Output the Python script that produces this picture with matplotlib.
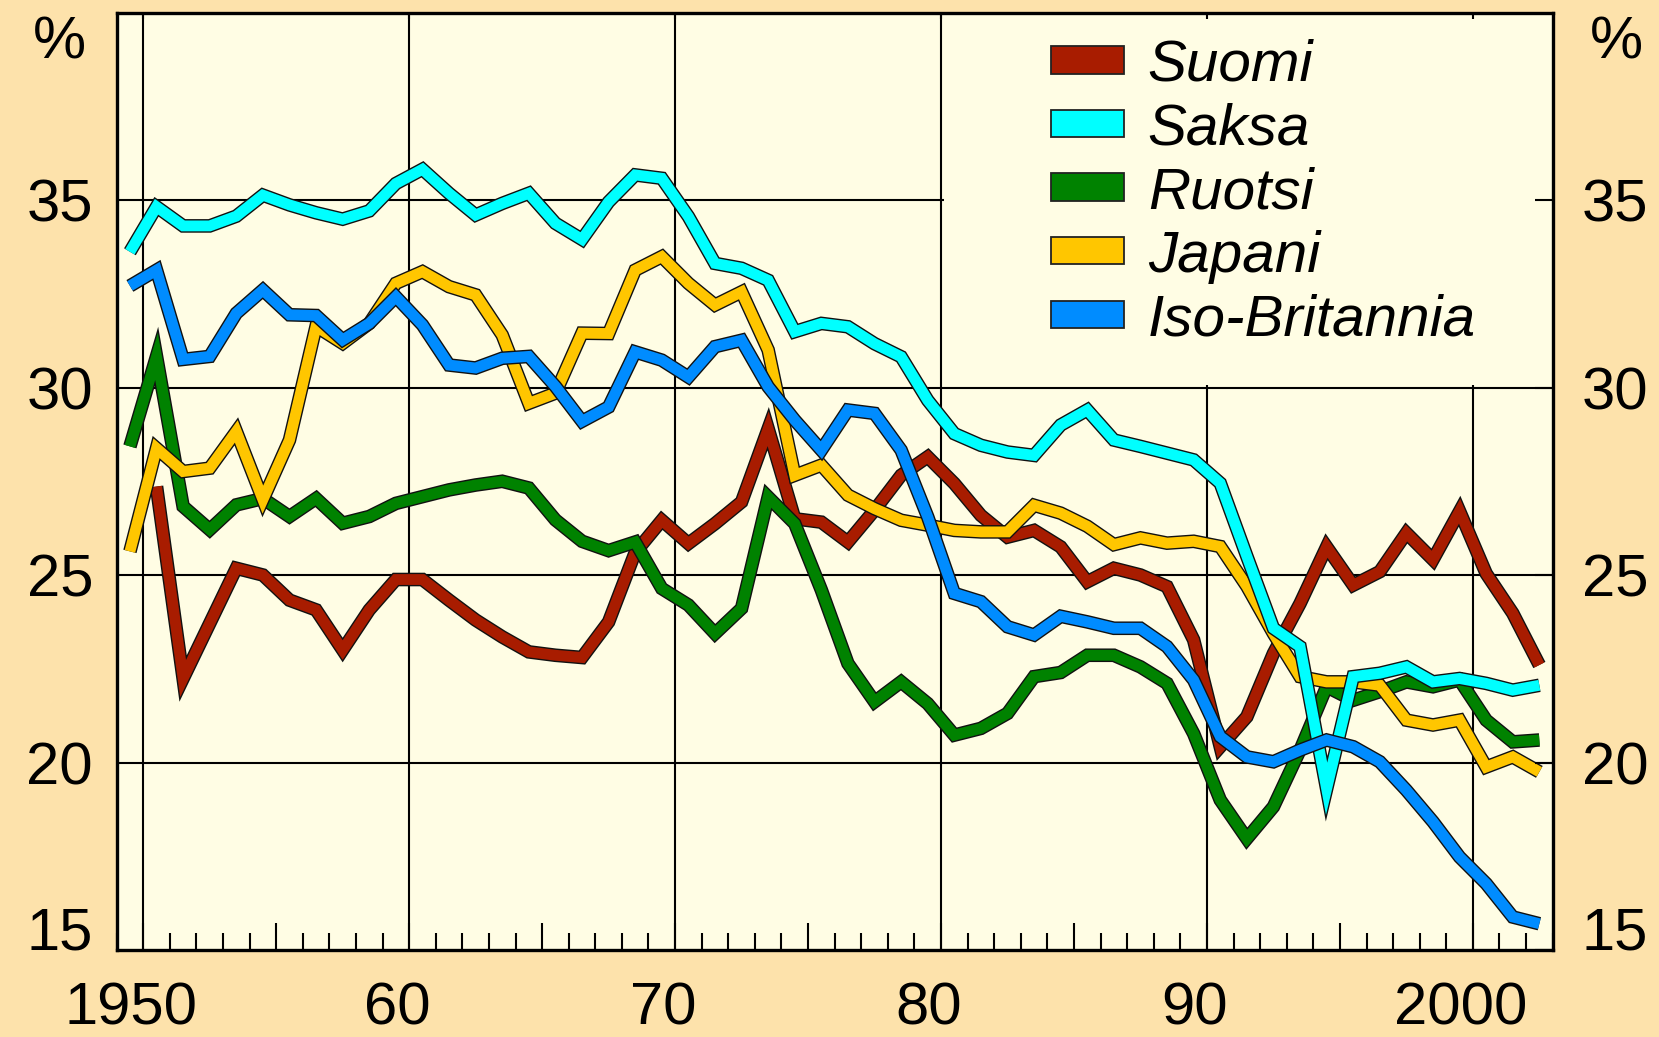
import numpy as np
import matplotlib

matplotlib.use("Agg")
import matplotlib.pyplot as plt
import matplotlib.patheffects as pe
from matplotlib.patches import Patch, Rectangle
from matplotlib.ticker import MultipleLocator

plt.rcParams["font.family"] = ["Liberation Sans", "DejaVu Sans"]

# data: one value per year, plotted at mid-year
years = np.arange(1950, 2004)

suomi = [np.nan, 27.36, 22.24, 23.71, 25.18, 25.0, 24.33, 24.07, 23.0, 24.07,
         24.88, 24.88, 24.33, 23.8, 23.35, 22.95, 22.86, 22.8, 23.75, 25.6,
         26.46, 25.84, 26.37, 26.95, 28.9, 26.5, 26.41, 25.88, 26.73, 27.66,
         28.15, 27.44, 26.59, 26.01, 26.19, 25.75, 24.82, 25.18, 25.0, 24.69,
         23.27, 20.42, 21.22, 22.91, 24.24, 25.75, 24.73, 25.09, 26.12, 25.41,
         26.7, 25.04, 23.98, 22.6]
saksa = [33.62, 34.82, 34.31, 34.31, 34.57, 35.13, 34.87, 34.66, 34.49, 34.71,
         35.44, 35.82, 35.18, 34.6, 34.91, 35.18, 34.38, 33.95, 34.95, 35.67,
         35.58, 34.56, 33.31, 33.18, 32.86, 31.49, 31.71, 31.62, 31.17, 30.82,
         29.66, 28.77, 28.46, 28.28, 28.19, 29.0, 29.4, 28.6, 28.43, 28.25,
         28.07, 27.45, 25.5, 23.58, 23.09, 19.3, 22.29, 22.38, 22.55, 22.15,
         22.24, 22.11, 21.93, 22.06]
ruotsi = [28.43, 30.83, 26.83, 26.21, 26.87, 27.04, 26.56, 27.04, 26.38, 26.56,
          26.91, 27.09, 27.27, 27.4, 27.5, 27.32, 26.47, 25.9, 25.65, 25.88,
          24.64, 24.2, 23.44, 24.11, 27.08, 26.37, 24.6, 22.64, 21.62, 22.15,
          21.57, 20.73, 20.91, 21.31, 22.29, 22.4, 22.86, 22.86, 22.55, 22.11,
          20.77, 19.0, 17.97, 18.82, 20.33, 22.02, 21.66, 21.89, 22.15, 22.02,
          22.2, 21.13, 20.55, 20.6]
japani = [25.63, 28.38, 27.76, 27.85, 28.83, 27.01, 28.6, 31.63, 31.18, 31.71,
          32.78, 33.09, 32.69, 32.47, 31.4, 29.58, 29.85, 31.45, 31.44, 33.13,
          33.49, 32.78, 32.2, 32.55, 31.0, 27.66, 27.93, 27.13, 26.77, 26.46,
          26.33, 26.19, 26.15, 26.15, 26.86, 26.65, 26.3, 25.81, 25.99, 25.85,
          25.9, 25.76, 24.7, 23.44, 22.29, 22.15, 22.15, 22.06, 21.13, 21.0,
          21.13, 19.88, 20.15, 19.75]
iso_britannia = [32.71, 33.13, 30.75, 30.83, 31.98, 32.6, 31.94, 31.92, 31.27, 31.71,
                 32.42, 31.67, 30.6, 30.52, 30.78, 30.83, 30.03, 29.1, 29.48, 30.95,
                 30.73, 30.28, 31.09, 31.26, 30.02, 29.13, 28.33, 29.4, 29.31, 28.33,
                 26.55, 24.51, 24.29, 23.62, 23.4, 23.9, 23.75, 23.58, 23.58, 23.09,
                 22.2, 20.69, 20.15, 20.02, 20.33, 20.6, 20.42, 20.02, 19.26, 18.42,
                 17.48, 16.77, 15.88, 15.7]

labels = ["Suomi", "Saksa", "Ruotsi", "Japani", "Iso-Britannia"]
series = [suomi, saksa, ruotsi, japani, iso_britannia]
colors = ["#A81C00", "#00FFFF", "#008200", "#FFC600", "#008CFF"]
draw_order = [0, 2, 3, 1, 4]

decades = [1950, 1960, 1970, 1980, 1990, 2000]
decade_labels = ["1950", "60", "70", "80", "90", "2000"]
levels = [15, 20, 25, 30, 35]
level_labels = ["15", "20", "25", "30", "35"]

OUTER_BG = "#FDE2AB"
PLOT_BG = "#FFFDE4"
FS = 43
LEG_FS = 42

fig = plt.figure(figsize=(16.59, 10.37), dpi=100, facecolor=OUTER_BG)
rect = [0.0703, 0.0839, 0.8656, 0.9040]
ax = fig.add_axes(rect, facecolor=PLOT_BG)
ax.set_xlim(1949, 2003)
ax.set_ylim(15, 40)
ax.set_axisbelow(True)

# grid
for d in decades:
    ax.axvline(d, color="black", lw=1.5, zorder=1)
for lv in levels[1:]:
    ax.axhline(lv, color="black", lw=1.5, zorder=1)

# series
for i in draw_order:
    ax.plot(years - 0.5, series[i], color=colors[i], lw=7.8,
            solid_joinstyle="miter", solid_capstyle="butt", zorder=2,
            path_effects=[pe.Stroke(linewidth=9.8, foreground="#111111",
                                    joinstyle="miter", capstyle="butt"),
                          pe.Normal()])

# blank panel behind the legend
ax.add_patch(Rectangle((1980.12, 30.06), 2003 - 1980.12, 40 - 30.06,
                       facecolor=PLOT_BG, edgecolor="none", zorder=2.2))

handles = [Patch(facecolor=c, edgecolor="#222222", linewidth=1.3) for c in colors]
ax.legend(handles, labels, loc="upper left", bbox_to_anchor=(0.6506, 0.972),
          frameon=False, borderpad=0, borderaxespad=0,
          prop={"family": ["Liberation Sans", "DejaVu Sans"], "style": "italic", "size": LEG_FS},
          handlelength=1.25, handleheight=0.343, handletextpad=0.41,
          labelspacing=0.165)

for s in ax.spines.values():
    s.set_linewidth(2.4)

# bottom ticks: long every 5 years, short every year
ax.xaxis.set_major_locator(MultipleLocator(5))
ax.xaxis.set_minor_locator(MultipleLocator(1))
ax.tick_params(axis="x", which="major", direction="in", length=19.5, width=1.5,
               labelbottom=False, top=False)
ax.tick_params(axis="x", which="minor", direction="in", length=12.2, width=1.5, top=False)
for d, lab in zip(decades, decade_labels):
    ax.text(d - 0.45, -0.080, lab, transform=ax.get_xaxis_transform(),
            ha="center", va="baseline", fontsize=FS)

ax.set_yticks(levels)
ax.set_yticklabels(level_labels)
ax.tick_params(axis="y", direction="in", length=0, pad=17, labelsize=FS)
ax.get_yticklabels()[0].set_verticalalignment("baseline")

# overlay axes for right and top ticks (drawn above the legend panel)
ax2 = fig.add_axes(rect, label="overlay")
ax2.patch.set_visible(False)
ax2.set_xlim(ax.get_xlim())
ax2.set_ylim(ax.get_ylim())
for s in ax2.spines.values():
    s.set_visible(False)
ax2.set_xticks(decades)
ax2.tick_params(axis="x", top=True, bottom=False, labeltop=False, labelbottom=False,
                direction="in", length=4.5, width=1.5)
ax2.yaxis.tick_right()
ax2.set_yticks(levels)
ax2.set_yticklabels(level_labels)
ax2.tick_params(axis="y", direction="in", length=13, width=1.5, pad=21, labelsize=FS)
ax2.get_yticklabels()[0].set_verticalalignment("baseline")

ax.text(-0.021, 0.967, "%", transform=ax.transAxes, ha="right", va="center", fontsize=FS)
ax.text(1.026, 0.967, "%", transform=ax.transAxes, ha="left", va="center", fontsize=FS)

fig.savefig("out.png", dpi=100, facecolor=OUTER_BG)
